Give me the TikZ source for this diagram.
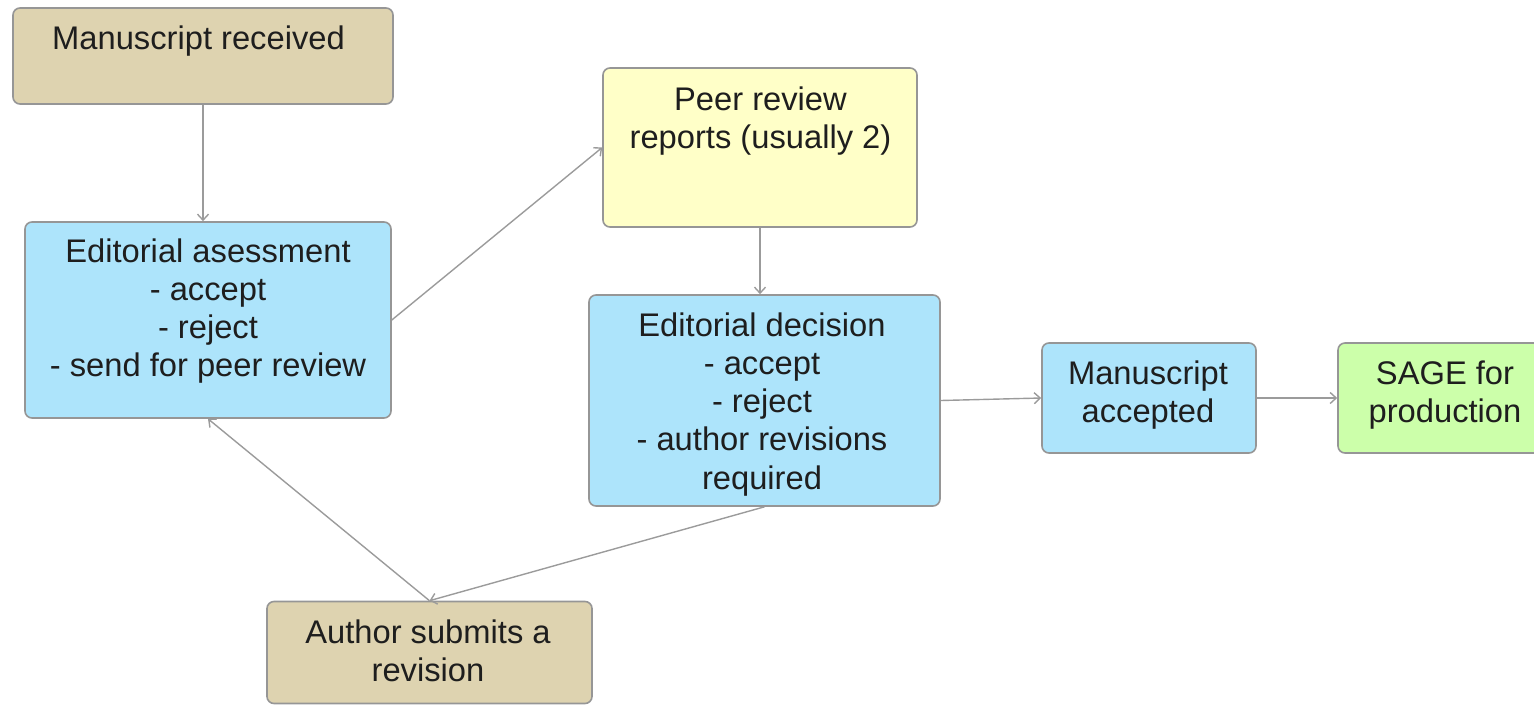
\documentclass[tikz,border=0pt]{standalone}
\usepackage{fontspec}
\setmainfont{Liberation Sans}
\usetikzlibrary{arrows.meta}
\definecolor{tanfill}{RGB}{222,211,176}
\definecolor{bluefill}{RGB}{173,228,251}
\definecolor{yellowfill}{RGB}{255,255,200}
\definecolor{greenfill}{RGB}{204,255,170}
\definecolor{bordergray}{RGB}{150,150,150}
\definecolor{arrowgray}{RGB}{155,155,155}
\definecolor{txtcol}{RGB}{30,30,30}
\begin{document}
\begin{tikzpicture}[x=1pt,y=-1pt,
  box/.style={draw=bordergray, line width=1.6pt, rounded corners=7pt, inner sep=0pt},
  lbl/.style={align=center, anchor=base, font=\fontsize{32.7}{38.3}\selectfont, text=txtcol, inner sep=0pt},
  conn/.style={draw=arrowgray, line width=1.4pt, -{Straight Barb[length=6pt,width=11pt]}}]
\useasboundingbox (0,0) rectangle (1534,705);
\clip (0,0) rectangle (1534,705);
% boxes
\node[box, fill=tanfill, minimum width=380pt, minimum height=96pt] (mr) at (203,56) {};
\node[box, fill=bluefill, minimum width=366pt, minimum height=196pt] (ea) at (208,320) {};
\node[box, fill=yellowfill, minimum width=314pt, minimum height=159pt] (pr) at (760,147.5) {};
\node[box, fill=bluefill, minimum width=351pt, minimum height=211pt] (ed) at (764.5,400.5) {};
\node[box, fill=bluefill, minimum width=214pt, minimum height=110pt] (ma) at (1149,398) {};
\node[box, fill=greenfill, minimum width=214pt, minimum height=110pt] (sage) at (1445,398) {};
\node[box, fill=tanfill, minimum width=325pt, minimum height=102pt] (au) at (429.5,652.5) {};
% texts (anchor base = baseline of the last line)
\node[lbl] (mrt) at (198.5,49) {Manuscript received};
\node[lbl] (eat) at (208,376.9) {Editorial asessment\\- accept\\- reject\\- send for peer review};
\node[lbl] (prt) at (760.5,148.3) {Peer review\\reports (usually 2)};
\node[lbl] (edt) at (762,489.2) {Editorial decision\\- accept\\- reject\\- author revisions\\required};
\node[lbl] (mat) at (1148,422.3) {Manuscript\\accepted};
\node[lbl] (saget) at (1445,422.3) {SAGE for\\production};
\node[lbl] (aut) at (428,681.3) {Author submits a\\revision};
% connectors
\draw[conn] (mr.south) -- (mr.south |- ea.north);
\draw[conn] (ea.east) -- (pr.west);
\draw[conn] (pr.south) -- (pr.south |- ed.north);
\draw[conn] (ed.east) -- (ma.west);
\draw[conn] (ma.east) -- (sage.west);
\draw[conn] (ed.south) -- (au.north);
\draw[conn] (au.north) -- (ea.south);
\end{tikzpicture}
\end{document}
